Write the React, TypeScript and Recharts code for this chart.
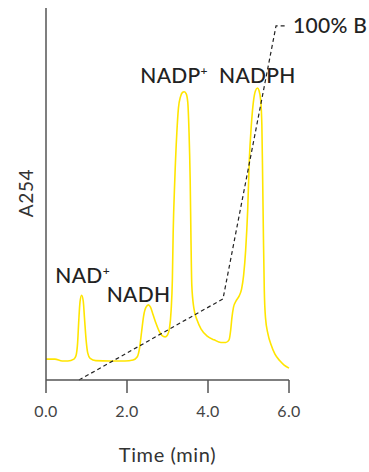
import React from "react";
import {
  LineChart,
  Line,
  XAxis,
  YAxis,
  ReferenceDot,
} from "recharts";

document.body.style.margin = "0";

// absorbance trace (time in min, A254 in % of plot height)
const traceTime = [
  0.0, 0.22, 0.4, 0.54, 0.69, 0.74, 0.78, 0.81, 0.84, 0.88, 0.92, 0.95, 0.99,
  1.03, 1.09, 1.23, 1.58, 1.95, 2.15, 2.25, 2.31, 2.36, 2.41, 2.47, 2.53, 2.58,
  2.64, 2.72, 2.79, 2.86, 2.94, 3.0, 3.05, 3.09, 3.12, 3.14, 3.18, 3.23, 3.27,
  3.32, 3.37, 3.41, 3.46, 3.5, 3.53, 3.56, 3.58, 3.6, 3.65, 3.73, 3.83, 3.98,
  4.15, 4.32, 4.44, 4.52, 4.56, 4.59, 4.63, 4.69, 4.77, 4.83, 4.88, 4.93, 4.98,
  5.02, 5.07, 5.12, 5.17, 5.22, 5.26, 5.3, 5.33, 5.35, 5.37, 5.39, 5.42, 5.48,
  5.56, 5.65, 5.78, 5.88, 6.0,
];
const traceA254 = [
  5.6, 5.6, 5.1, 5.1, 5.6, 6.5, 9.9, 16.1, 21.0, 22.8, 21.2, 16.7, 10.8, 7.3,
  5.8, 5.2, 5.1, 5.1, 5.4, 6.2, 8.6, 12.9, 17.2, 19.6, 20.2, 19.6, 17.7, 15.1,
  13.2, 12.0, 11.6, 12.1, 14.0, 18.8, 26.9, 39.5, 53.8, 66.4, 73.1, 76.1, 77.3,
  77.5, 77.0, 74.7, 67.2, 53.8, 37.6, 25.5, 19.4, 16.1, 13.7, 11.8, 10.8, 10.1,
  10.1, 10.8, 13.4, 16.7, 19.6, 21.2, 22.6, 24.5, 28.2, 34.9, 45.7, 59.1, 68.5,
  74.7, 77.7, 78.5, 77.8, 75.3, 68.5, 53.8, 37.6, 24.2, 16.7, 12.4, 9.4, 7.0,
  5.1, 4.0, 3.2,
];

// %B gradient (dashed)
const gradientTime = [0.815, 4.37, 5.68, 5.95];
const gradientLevel = [0, 21.8, 95.2, 95.2];

// peak annotations
const peakNames = ["NAD", "NADH", "NADP", "NADPH"];
const peakSup = ["+", "", "+", ""];
const peakTime = [0.88, 2.53, 3.41, 5.22];
const peakA254 = [22.8, 20.2, 77.5, 78.5];
const peakDx = [1, -10, -10, 0];
const peakDy = [-12, -3, -9, -5];

const xTicks = [0, 2, 4, 6];

const trace = traceTime.map((t, i) => ({ t, a: traceA254[i] }));
const gradient = gradientTime.map((t, i) => ({ t, b: gradientLevel[i] }));

const FONT = "Lato, 'Noto Sans', sans-serif";

const PeakLabel = (name: string, sup: string, dx: number, dy: number) =>
  function Lbl(props: any) {
    const vb = props.viewBox || {};
    const cx = (vb.x ?? 0) + (vb.width ?? 0) / 2 + dx;
    const cy = (vb.y ?? 0) + (vb.height ?? 0) / 2 + dy;
    return (
      <text
        x={cx}
        y={cy}
        textAnchor="middle"
        fontFamily={FONT}
        fontSize={21}
        fontWeight={500}
        letterSpacing={0.3}
        fill="#222"
      >
        {name}
        {sup && (
          <tspan fontSize={12} dy={-8}>
            {sup}
          </tspan>
        )}
      </text>
    );
  };

const EndLabel = (props: any) => {
  const { x, y, index } = props;
  if (index !== gradient.length - 1) return null;
  return (
    <text
      x={x + 6}
      y={y + 7}
      fontFamily={FONT}
      fontSize={21}
      fontWeight={500}
      letterSpacing={0.3}
      fill="#222"
    >
      100% B
    </text>
  );
};

const YLabel = (props: any) => {
  const vb = props.viewBox || {};
  const cx = 25;
  const cy = (vb.y ?? 0) + (vb.height ?? 0) / 2 - 1;
  return (
    <text
      x={cx}
      y={cy}
      transform={`rotate(-90, ${cx}, ${cy})`}
      textAnchor="middle"
      dominantBaseline="central"
      fontFamily={FONT}
      fontSize={19}
      letterSpacing={0.6}
      fill="#333"
    >
      A254
    </text>
  );
};

export default function App() {
  return (
    <LineChart
      width={369}
      height={472}
      margin={{ top: 8, right: 80, bottom: 0, left: 0 }}
    >
      <XAxis
        dataKey="t"
        type="number"
        domain={[0, 6]}
        ticks={xTicks}
        tickFormatter={(v: number) => v.toFixed(1)}
        height={92}
        tickSize={13}
        tickMargin={13}
        axisLine={{ stroke: "#555", strokeWidth: 1.5 }}
        tickLine={{ stroke: "#555", strokeWidth: 1.5 }}
        tick={{ fill: "#444", fontSize: 16, fontFamily: FONT, letterSpacing: 0.4 }}
        label={{
          value: "Time (min)",
          position: "insideBottom",
          offset: 10,
          fill: "#333",
          fontSize: 20,
          letterSpacing: 0.6,
          fontFamily: FONT,
        }}
      />
      <YAxis
        type="number"
        domain={[0, 100]}
        width={46}
        tick={false}
        tickLine={false}
        axisLine={{ stroke: "#555", strokeWidth: 1.5 }}
        label={<YLabel />}
      />
      <Line
        data={trace}
        dataKey="a"
        type="monotone"
        stroke="#FFE500"
        strokeWidth={1.6}
        dot={false}
        isAnimationActive={false}
      />
      <Line
        data={gradient}
        dataKey="b"
        type="linear"
        stroke="#222"
        strokeWidth={1.2}
        strokeDasharray="4 3"
        dot={false}
        label={<EndLabel />}
        isAnimationActive={false}
      />
      {peakNames.map((n, i) => (
        <ReferenceDot
          key={n}
          x={peakTime[i]}
          y={peakA254[i]}
          r={0}
          stroke="none"
          fill="none"
          label={PeakLabel(n, peakSup[i], peakDx[i], peakDy[i])}
        />
      ))}
    </LineChart>
  );
}
